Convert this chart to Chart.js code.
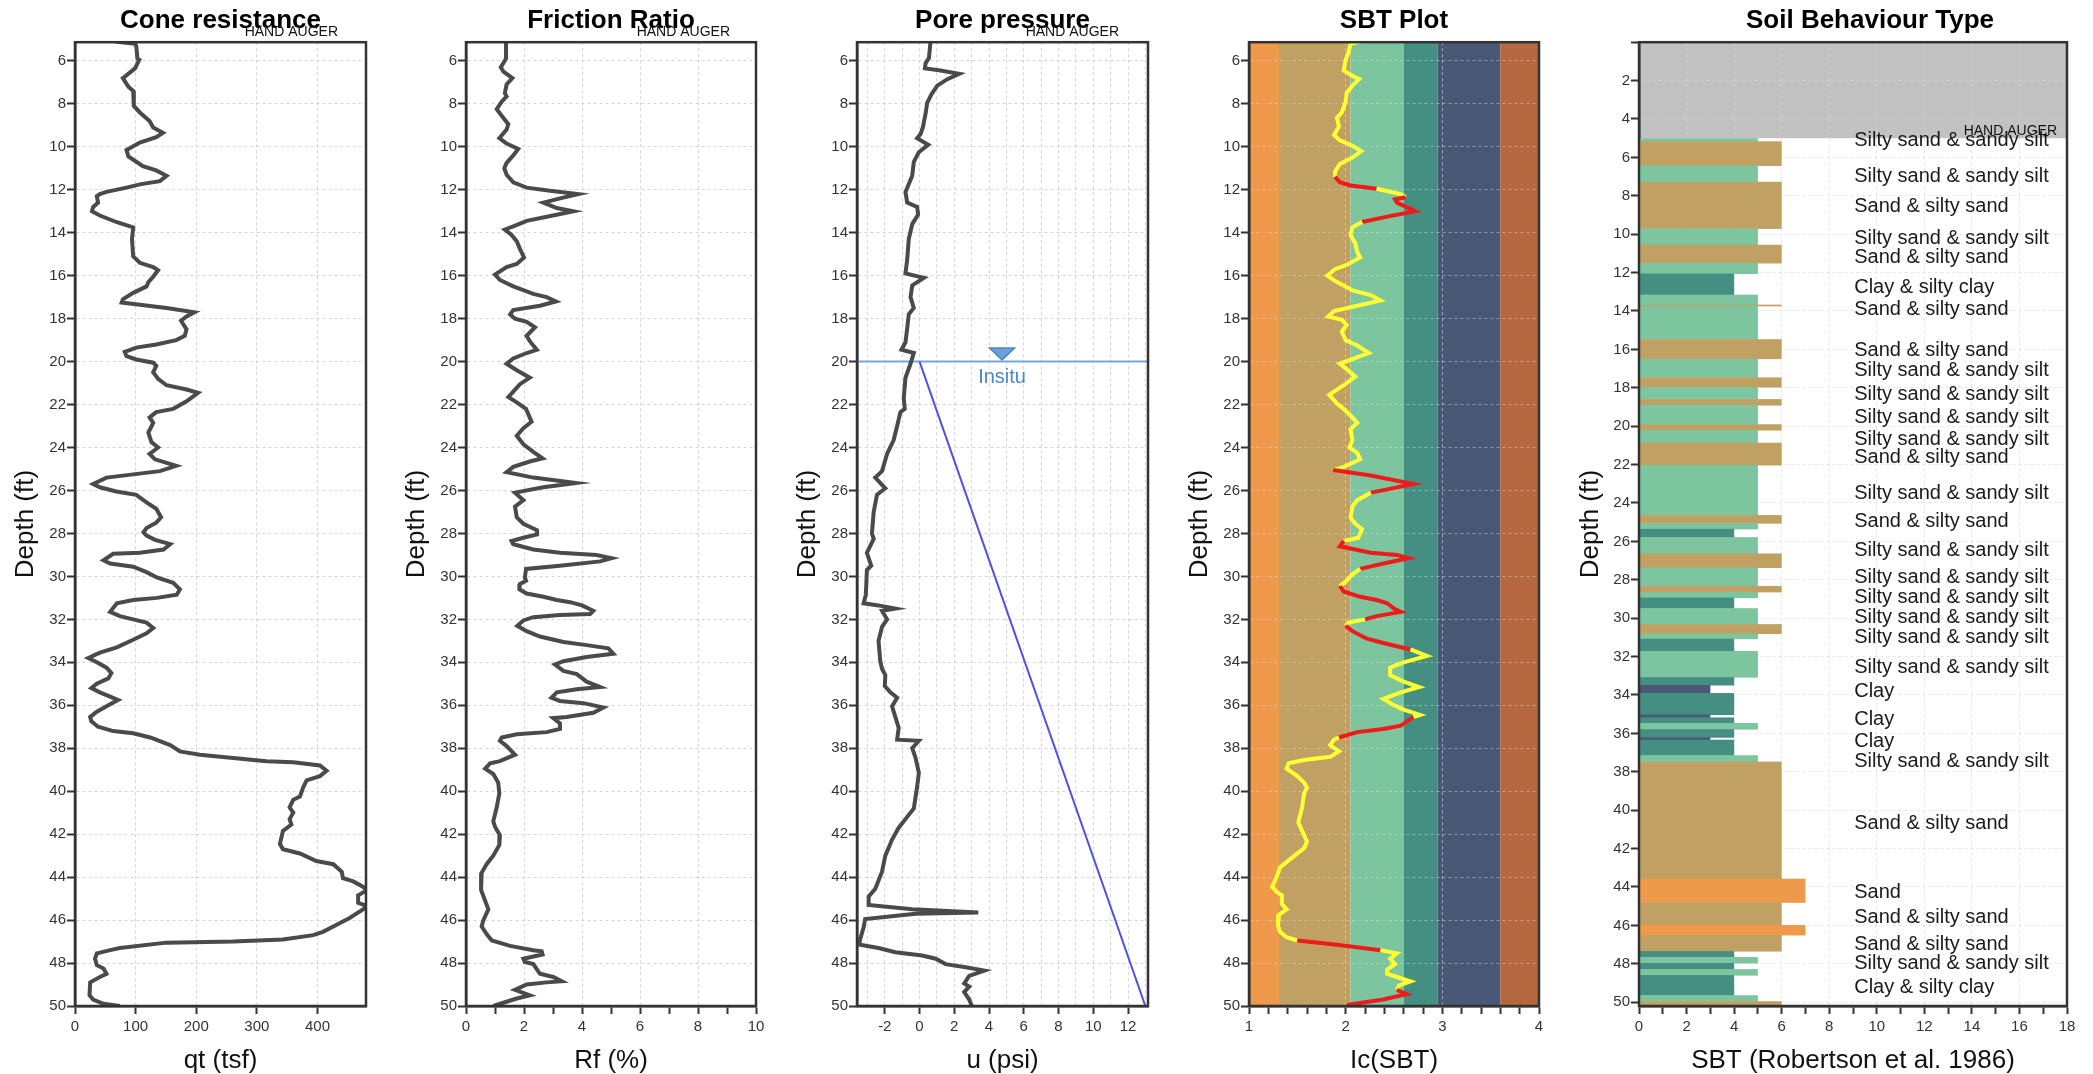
<!DOCTYPE html>
<html>
<head>
<meta charset="utf-8">
<script src="https://cdn.jsdelivr.net/npm/chart.js@4.4.1/dist/chart.umd.min.js"></script>
<style>
  html, body { margin: 0; padding: 0; background: #fff; overflow: hidden; width: 2093px; height: 1074px; }
  canvas { position: absolute; top: 0; }
</style>
</head>
<body>
<canvas id="cone" width="396" height="1074" style="left:0px"></canvas>
<canvas id="friction" width="390" height="1074" style="left:396px"></canvas>
<canvas id="pore" width="390" height="1074" style="left:786px"></canvas>
<canvas id="sbtplot" width="390" height="1074" style="left:1176px"></canvas>
<canvas id="sbt" width="527" height="1074" style="left:1566px"></canvas>
<script>
const qtDepth = [5.1, 5.2, 5.3, 5.9, 5.95, 6.35, 6.8, 7.2, 7.4, 8.1,
  8.4, 8.8, 9.1, 9.35, 9.55, 9.8, 10.15, 10.45, 10.9, 11.1,
  11.35, 11.6, 11.75, 11.9, 12.1, 12.2, 12.3, 12.6, 12.8, 13.0,
  13.2, 13.5, 13.75, 14.3, 15.1, 15.4, 15.6, 15.75, 16.05, 16.3,
  16.5, 16.8, 17.1, 17.25, 17.35, 17.5, 17.7, 17.9, 18.1, 18.5,
  18.8, 19.0, 19.2, 19.35, 19.55, 19.75, 19.9, 20.05, 20.2, 20.5,
  20.8, 21.1, 21.3, 21.45, 21.85, 22.2, 22.35, 22.6, 22.85, 23.3,
  23.75, 24.0, 24.3, 24.55, 24.85, 25.1, 25.25, 25.4, 25.7, 25.85,
  26.05, 26.2, 26.55, 26.85, 27.25, 27.5, 27.75, 27.95, 28.1, 28.3,
  28.5, 28.75, 28.9, 28.95, 29.25, 29.4, 29.55, 29.8, 30.05, 30.3,
  30.6, 30.85, 31.0, 31.1, 31.25, 31.65, 31.85, 32.0, 32.15, 32.4,
  32.65, 32.95, 33.3, 33.55, 33.8, 34.0, 34.25, 34.5, 34.75, 35.0,
  35.2, 35.4, 35.6, 35.75, 36.05, 36.3, 36.55, 36.75, 37.0, 37.2,
  37.3, 37.5, 37.85, 38.15, 38.3, 38.45, 38.6, 38.65, 38.8, 39.05,
  39.3, 39.5, 39.85, 40.25, 40.4, 40.75, 41.0, 41.3, 41.55, 41.85,
  42.45, 42.7, 42.9, 43.25, 43.4, 43.75, 44.05, 44.2, 44.45, 44.6,
  44.85, 45.2, 45.35, 45.5, 45.9, 46.3, 46.55, 46.7, 46.9, 47.0,
  47.05, 47.3, 47.4, 47.55, 47.8, 48.1, 48.25, 48.5, 48.65, 48.9,
  49.5, 49.7, 49.9, 50.0];
const qtValues = [66, 99, 101, 103, 106, 99, 79, 88, 96, 97,
  107, 123, 129, 145, 134, 107, 85, 88, 112, 134,
  151, 140, 107, 85, 52, 41, 36, 38, 30, 28,
  41, 68, 96, 94, 96, 107, 129, 137, 129, 121,
  118, 96, 79, 77, 107, 151, 197, 184, 175, 184,
  181, 167, 134, 101, 82, 85, 101, 129, 134, 129,
  137, 151, 184, 203, 184, 162, 134, 123, 129, 121,
  126, 137, 123, 132, 167, 140, 96, 52, 30, 41,
  68, 101, 118, 134, 142, 134, 118, 113, 118, 132,
  157, 146, 107, 63, 47, 58, 96, 118, 135, 162,
  173, 168, 135, 96, 69, 58, 74, 96, 118, 129,
  118, 96, 69, 41, 22, 36, 52, 60, 55, 36,
  27, 41, 58, 71, 52, 36, 25, 27, 38, 63,
  96, 124, 157, 173, 206, 261, 316, 360, 404, 415,
  404, 382, 376, 371, 360, 354, 360, 354, 357, 343,
  338, 343, 371, 398, 426, 440, 442, 459, 475, 482,
  467, 467, 482, 475, 453, 426, 409, 393, 343, 261,
  151, 74, 58, 36, 33, 36, 47, 52, 41, 25,
  24, 30, 47, 74];

const rfDepth = [5.1, 5.9, 6.1, 6.3, 6.5, 6.8, 7.1, 7.5, 7.65, 7.9,
  8.25, 8.55, 8.95, 9.2, 9.6, 9.85, 10.1, 10.4, 10.75, 11.0,
  11.3, 11.65, 11.9, 12.05, 12.2, 12.4, 12.6, 12.85, 13.0, 13.2,
  13.45, 13.7, 13.85, 14.1, 14.4, 14.75, 15.15, 15.45, 15.6, 15.95,
  16.2, 16.5, 16.85, 17.0, 17.2, 17.4, 17.6, 17.8, 18.0, 18.15,
  18.4, 18.8, 19.05, 19.45, 19.6, 19.85, 20.1, 20.4, 20.75, 21.05,
  21.4, 21.65, 21.9, 22.2, 22.8, 23.1, 23.45, 23.85, 24.2, 24.5,
  24.65, 24.9, 25.15, 25.4, 25.65, 25.85, 26.1, 26.45, 26.75, 27.25,
  27.55, 27.85, 28.05, 28.2, 28.35, 28.5, 28.75, 28.9, 29.0, 29.15,
  29.3, 29.5, 29.65, 30.05, 30.2, 30.35, 30.6, 30.8, 30.95, 31.1,
  31.2, 31.35, 31.6, 31.75, 31.8, 31.9, 32.05, 32.3, 32.55, 32.8,
  33.05, 33.2, 33.35, 33.6, 33.75, 33.95, 34.1, 34.4, 34.55, 34.9,
  35.15, 35.25, 35.4, 35.65, 35.8, 35.9, 36.1, 36.35, 36.55, 36.6,
  36.85, 37.1, 37.25, 37.35, 37.5, 37.65, 37.9, 38.3, 38.6, 38.7,
  38.95, 39.2, 39.6, 40.1, 40.75, 41.4, 41.65, 42.05, 42.5, 43.0,
  43.4, 43.8, 44.6, 45.1, 45.5, 46.0, 46.3, 46.65, 46.95, 47.2,
  47.4, 47.45, 47.6, 47.8, 47.95, 48.05, 48.5, 48.65, 48.85, 48.9,
  49.0, 49.25, 49.5, 49.65, 49.85, 50.0];
const rfValues = [1.38, 1.38, 1.29, 1.2, 1.29, 1.6, 1.4, 1.34, 1.4, 1.23,
  1.06, 1.23, 1.46, 1.4, 1.15, 1.4, 1.8, 1.63, 1.4, 1.32,
  1.4, 1.63, 2.09, 2.9, 3.87, 3.24, 2.67, 3.13, 3.7, 3.0,
  2.09, 1.63, 1.34, 1.57, 1.75, 1.86, 2.0, 1.75, 1.4, 1.0,
  1.17, 1.63, 2.32, 2.78, 3.1, 2.55, 1.63, 1.52, 1.69, 2.09,
  2.38, 2.09, 2.2, 2.44, 2.09, 1.63, 1.4, 1.75, 2.2, 1.86,
  1.63, 1.46, 1.75, 2.07, 2.26, 1.98, 1.75, 1.98, 2.32, 2.64,
  2.2, 1.63, 1.4, 2.32, 3.79, 2.67, 1.69, 1.98, 1.69, 1.75,
  1.98, 2.45, 2.45, 1.98, 1.57, 1.63, 2.32, 3.24, 4.5, 5.02,
  4.62, 3.24, 2.07, 2.03, 2.07, 1.86, 1.84, 2.09, 2.67, 3.13,
  3.59, 4.0, 4.39, 4.28, 3.24, 2.32, 1.98, 1.77, 2.09, 2.55,
  3.36, 4.16, 4.91, 5.08, 4.16, 3.36, 3.07, 3.36, 3.82, 4.16,
  4.62, 3.82, 3.13, 2.95, 3.24, 4.05, 4.74, 4.39, 3.47, 3.01,
  3.24, 3.24, 2.78, 1.75, 1.23, 1.17, 1.4, 1.69, 1.17, 0.83,
  0.66, 0.94, 1.11, 1.15, 1.06, 0.94, 1.0, 1.17, 1.15, 0.94,
  0.71, 0.54, 0.52, 0.66, 0.77, 0.6, 0.54, 0.71, 0.89, 1.52,
  2.32, 2.61, 2.64, 1.98, 2.03, 2.32, 2.55, 3.01, 3.3, 2.78,
  2.09, 1.69, 2.2, 1.75, 1.29, 0.94];

const uDepth = [5.03, 5.87, 6.1, 6.35, 6.44, 6.6, 6.85, 7.15, 7.55, 7.95,
  8.45, 9.1, 9.4, 9.6, 9.9, 10.25, 10.7, 11.35, 12.1, 12.6,
  12.8, 13.15, 13.6, 14.3, 15.25, 15.9, 16.1, 16.45, 17.0, 17.5,
  17.8, 18.45, 19.1, 19.45, 19.6, 20.1, 20.75, 21.7, 22.2, 22.35,
  23.0, 23.65, 24.3, 25.1, 25.4, 25.9, 26.2, 27.0, 28.0, 28.25,
  28.9, 29.5, 29.7, 30.85, 31.25, 31.35, 31.5, 31.6, 32.0, 32.35,
  33.0, 33.95, 34.3, 34.6, 35.1, 35.4, 35.65, 36.05, 36.55, 37.05,
  37.6, 37.65, 38.0, 38.45, 39.15, 39.8, 40.8, 41.3, 41.7, 42.25,
  43.0, 43.75, 44.55, 44.9, 45.3, 45.5, 45.65, 45.7, 45.95, 46.35,
  47.0, 47.15, 47.3, 47.5, 47.65, 47.8, 48.05, 48.2, 48.35, 48.6,
  48.95, 49.1, 49.35, 49.7, 50.0];
const uValues = [0.64, 0.54, 0.35, 0.31, 1.12, 2.28, 1.6, 1.02, 0.69, 0.44,
  0.35, 0.19, 0.06, -0.14, 0.5, -0.04, -0.33, -0.42, -0.81, -0.71,
  -0.14, -0.08, -0.42, -0.62, -0.71, -0.81, 0.25, -0.42, -0.52, -0.33,
  -0.62, -0.71, -0.81, -1.04, -0.33, -0.52, -0.81, -0.91, -0.85, -1.1,
  -1.29, -1.49, -1.87, -2.16, -2.55, -1.97, -2.45, -2.64, -2.74, -2.64,
  -3.03, -2.78, -3.03, -3.09, -3.22, -2.36, -1.39, -2.16, -1.87, -2.16,
  -2.36, -2.26, -2.16, -1.97, -2.0, -1.68, -1.29, -1.58, -1.39, -1.2,
  -1.29, -0.04, -0.42, -0.23, -0.04, -0.14, -0.33, -0.81, -1.2, -1.58,
  -1.97, -2.16, -2.55, -2.93, -2.93, -0.42, 3.38, -0.23, -3.13, -3.22,
  -3.46, -3.42, -2.36, -1.39, 0.15, 0.93, 1.5, 2.66, 3.73, 2.86,
  2.57, 2.86, 2.57, 2.86, 3.01];

// hydrostatic line below the water table
const waterDepth = 20;
const hydroDepth = [20, 50];
const hydroU = [0, 13.0];

const icDepth = [5.1, 5.2, 5.6, 5.95, 6.45, 6.7, 6.85, 7.15, 7.5, 7.9,
  8.4, 8.65, 9.05, 9.45, 9.7, 9.95, 10.2, 10.5, 10.8, 11.15,
  11.4, 11.65, 11.8, 11.95, 12.2, 12.35, 12.45, 12.6, 13.0, 13.25,
  13.5, 13.75, 14.1, 14.5, 14.9, 15.15, 15.5, 15.7, 16.0, 16.3,
  16.7, 16.9, 17.15, 17.4, 17.65, 17.9, 18.05, 18.3, 18.6, 19.0,
  19.25, 19.6, 19.75, 20.1, 20.35, 20.7, 21.1, 21.55, 21.95, 22.2,
  22.6, 22.85, 23.15, 23.65, 24.0, 24.25, 24.55, 24.9, 25.05, 25.3,
  25.7, 25.95, 26.1, 26.45, 26.75, 27.25, 27.55, 27.8, 28.2, 28.35,
  28.6, 28.9, 29.0, 29.15, 29.4, 29.65, 29.9, 30.2, 30.45, 30.7,
  30.95, 31.1, 31.25, 31.5, 31.65, 31.85, 32.0, 32.15, 32.3, 32.55,
  32.9, 33.1, 33.4, 33.7, 34.0, 34.25, 34.6, 34.9, 35.15, 35.4,
  35.7, 35.95, 36.2, 36.45, 36.55, 36.95, 37.1, 37.25, 37.5, 37.6,
  37.85, 38.15, 38.4, 38.55, 38.7, 38.95, 39.3, 39.6, 39.85, 40.1,
  40.75, 41.45, 41.85, 42.35, 42.65, 43.15, 43.55, 43.95, 44.45, 44.7,
  44.85, 45.25, 45.5, 45.75, 46.25, 46.55, 46.8, 46.95, 47.15, 47.4,
  47.55, 47.8, 48.05, 48.3, 48.5, 48.65, 48.85, 49.05, 49.25, 49.45,
  49.7, 49.95];
const icValues = [2.15, 2.05, 2.03, 2.0, 1.98, 2.07, 2.14, 2.07, 2.01, 2.0,
  1.96, 1.91, 1.93, 1.88, 1.94, 2.07, 2.16, 2.07, 1.94, 1.89,
  1.89, 1.94, 2.05, 2.32, 2.57, 2.62, 2.51, 2.53, 2.72, 2.43,
  2.17, 2.07, 2.05, 2.1, 2.12, 2.15, 2.01, 1.89, 1.81, 1.91,
  2.08, 2.26, 2.36, 2.12, 1.88, 1.82, 1.96, 2.01, 1.96, 2.0,
  2.12, 2.24, 2.15, 1.94, 2.01, 2.1, 1.98, 1.83, 1.91, 1.98,
  2.07, 2.12, 2.05, 2.07, 2.04, 2.12, 2.15, 1.98, 1.87, 2.26,
  2.7, 2.43, 2.26, 2.12, 2.07, 2.05, 2.1, 2.17, 2.13, 1.98,
  1.94, 2.26, 2.53, 2.65, 2.39, 2.15, 2.07, 2.01, 1.94, 1.98,
  2.15, 2.32, 2.43, 2.5, 2.57, 2.32, 2.2, 2.03, 2.0, 2.07,
  2.22, 2.39, 2.67, 2.84, 2.6, 2.46, 2.46, 2.6, 2.76, 2.57,
  2.39, 2.48, 2.6, 2.77, 2.7, 2.57, 2.39, 2.12, 1.93, 1.88,
  1.84, 1.93, 1.84, 1.57, 1.41, 1.39, 1.5, 1.57, 1.6, 1.57,
  1.55, 1.51, 1.55, 1.6, 1.57, 1.43, 1.32, 1.29, 1.24, 1.29,
  1.34, 1.34, 1.39, 1.31, 1.3, 1.32, 1.39, 1.5, 1.91, 2.36,
  2.53, 2.46, 2.51, 2.43, 2.43, 2.53, 2.67, 2.55, 2.53, 2.63,
  2.39, 2.01];
// 1 = the stretch starting at this point is drawn red (transition zone)
const icRed = [0, 0, 0, 0, 0, 0, 0, 0, 0, 0,
  0, 0, 0, 0, 0, 0, 0, 0, 0, 0,
  1, 1, 1, 0, 0, 1, 1, 1, 1, 1,
  0, 0, 0, 0, 0, 0, 0, 0, 0, 0,
  0, 0, 0, 0, 0, 0, 0, 0, 0, 0,
  0, 0, 0, 0, 0, 0, 0, 0, 0, 0,
  0, 0, 0, 0, 0, 0, 0, 0, 1, 1,
  1, 1, 0, 0, 0, 0, 0, 0, 0, 1,
  1, 1, 1, 1, 1, 0, 0, 0, 1, 1,
  1, 1, 1, 1, 1, 1, 0, 0, 1, 1,
  1, 1, 0, 0, 0, 0, 0, 0, 0, 0,
  0, 0, 0, 0, 1, 1, 1, 1, 0, 0,
  0, 0, 0, 0, 0, 0, 0, 0, 0, 0,
  0, 0, 0, 0, 0, 0, 0, 0, 0, 0,
  0, 0, 0, 0, 0, 0, 0, 1, 1, 0,
  0, 0, 0, 0, 0, 0, 0, 0, 1, 1,
  1, 0];

// Ic zone boundaries and their colours
const icBounds = [1, 1.31, 2.05, 2.6, 2.95, 3.6, 4];
const icBandColors = ['#ef9a4b', '#c0a063', '#7cc59f', '#448f81', '#4a5878', '#b5673f'];

// soil behaviour type layers (top depth + zone), base of last layer
const layerTop = [5.0, 5.16, 6.42, 7.27, 9.7, 10.55, 11.5, 12.05, 13.15, 13.67,
  13.73, 15.47, 16.48, 17.46, 17.96, 18.59, 18.9, 19.9, 20.2, 20.86,
  22.02, 24.63, 25.05, 25.35, 25.78, 26.63, 27.36, 28.32, 28.63, 28.93,
  29.48, 30.31, 30.8, 31.07, 31.71, 33.07, 33.48, 33.9, 35.02, 35.17,
  35.46, 35.78, 36.2, 36.33, 37.14, 37.47, 43.57, 44.8, 45.98, 46.5,
  47.34, 47.65, 47.96, 48.28, 48.59, 49.64, 49.95];
const layerZone = [5, 6, 5, 6, 5, 6, 5, 4, 5, 6,
  5, 6, 5, 6, 5, 6, 5, 6, 5, 6,
  5, 6, 5, 4, 5, 6, 5, 6, 5, 4,
  5, 6, 5, 4, 5, 4, 3, 4, 3, 4,
  5, 4, 3, 4, 5, 6, 7, 6, 7, 6,
  4, 5, 4, 5, 4, 5, 6];
const layerBase = 50.2;
const zoneColors = {3: '#4a5878', 4: '#448f81', 5: '#7cc59f', 6: '#c0a063', 7: '#ef9a4b'};

const SS = 'Silty sand & sandy silt', SD = 'Sand & silty sand', CL = 'Clay & silty clay';
const labelDepth = [5.1, 7.0, 8.58, 10.24, 11.2, 12.78, 13.9, 16.07, 17.11, 18.37,
  19.53, 20.68, 21.62, 23.5, 24.96, 26.45, 27.9, 28.9, 29.95, 30.98,
  32.56, 33.83, 35.3, 36.42, 37.47, 40.67, 44.3, 45.57, 47.0, 47.96, 49.22];
const labelText = [SS, SS, SD, SS, SD, CL, SD, SD, SS, SS,
  SS, SS, SD, SS, SD, SS, SS, SS, SS, SS,
  SS, 'Clay', 'Clay', 'Clay', SS, SD, 'Sand', SD, SD, SS, CL];

const handAugerDepth = 5;

// ---- tick values ----
const depthTicks = [6, 8, 10, 12, 14, 16, 18, 20, 22, 24, 26, 28, 30, 32, 34, 36, 38, 40, 42, 44, 46, 48, 50];
const sbtDepthTicks = [0, 2, 4, 6, 8, 10, 12, 14, 16, 18, 20, 22, 24, 26, 28, 30, 32, 34, 36, 38, 40, 42, 44, 46, 48, 50];
const qtTicks = [0, 100, 200, 300, 400];
const rfTicks = [0, 1, 2, 3, 4, 5, 6, 7, 8, 9, 10];
const uTicks = [-3, -2, -1, 0, 1, 2, 3, 4, 5, 6, 7, 8, 9, 10, 11, 12, 13];
const icTicks = [1, 1.2, 1.4, 1.6, 1.8, 2, 2.2, 2.4, 2.6, 2.8, 3, 3.2, 3.4, 3.6, 3.8, 4];
const sbtTicks = [0, 1, 2, 3, 4, 5, 6, 7, 8, 9, 10, 11, 12, 13, 14, 15, 16, 17, 18];

// ---- drawing ----
Chart.defaults.font.family = "'Liberation Sans', Arial, sans-serif";
Chart.defaults.color = '#222';

const pts = (xs, ys) => xs.map((x, i) => ({x: x, y: ys[i]}));
const GRID = 'rgba(200,200,200,0.75)';
const INK = '#333';

const framePlugin = {
  id: 'frame',
  afterDatasetsDraw(c) {
    const a = c.chartArea, ctx = c.ctx;
    ctx.save();
    ctx.strokeStyle = INK;
    ctx.lineWidth = 2.5;
    ctx.strokeRect(a.left, a.top, a.right - a.left, a.bottom - a.top);
    ctx.restore();
  }
};

function handAuger(inset) {
  return {
    id: 'handAuger',
    afterDraw(c) {
      const ctx = c.ctx;
      ctx.save();
      ctx.font = "14px 'Liberation Sans', Arial, sans-serif";
      ctx.fillStyle = '#111';
      ctx.textAlign = 'right';
      ctx.textBaseline = 'alphabetic';
      ctx.fillText('HAND AUGER', c.chartArea.right - inset, c.scales.y.getPixelForValue(handAugerDepth) - 3);
      ctx.restore();
    }
  };
}

// title drawn by hand when it sits off the plot centre
function shiftedTitle(text, shift) {
  return {
    id: 'shiftedTitle',
    afterDraw(c) {
      const ctx = c.ctx, a = c.chartArea, t = c.titleBlock;
      ctx.save();
      ctx.font = "bold 26px 'Liberation Sans', Arial, sans-serif";
      ctx.fillStyle = '#000';
      ctx.textAlign = 'center';
      ctx.textBaseline = 'middle';
      ctx.fillText(text, (a.left + a.right) / 2 + shift, (t.top + t.bottom) / 2);
      ctx.restore();
    }
  };
}

function lineSet(xs, ys, color, width) {
  return {data: pts(xs, ys), showLine: true, pointRadius: 0, borderColor: color, borderWidth: width, tension: 0};
}

function panel(id, o) {
  const setTicks = arr => s => { s.ticks = arr.map(v => ({value: v})); };
  return new Chart(document.getElementById(id), {
    type: 'scatter',
    data: {datasets: o.datasets},
    options: {
      responsive: false,
      animation: false,
      events: [],
      layout: {padding: {left: 0, right: o.padRight, top: 0, bottom: 0}, autoPadding: false},
      plugins: {
        legend: {display: false},
        tooltip: {enabled: false},
        title: {
          display: true, text: o.title, fullSize: false,
          color: o.titleShift ? 'rgba(0,0,0,0)' : '#000',
          font: {size: 26, weight: 'bold', lineHeight: 1.2},
          padding: {top: 5, bottom: 6}
        }
      },
      scales: {
        x: {
          type: 'linear', position: 'bottom', min: o.xMin, max: o.xMax,
          afterBuildTicks: setTicks(o.xTicks),
          afterFit: s => { s.height = 68; },
          ticks: {autoSkip: false, maxRotation: 0, padding: 4, color: INK, font: {size: 15}, callback: o.xLabel || (v => v)},
          grid: {color: o.xGrid || GRID, tickColor: o.xTickColor || INK, tickLength: 8, tickWidth: 2, lineWidth: 1},
          border: {color: INK, width: 2.5, dash: [3, 3]},
          title: {display: true, text: o.xTitle, color: '#111', font: {size: 26, lineHeight: 1}, padding: {top: 0, bottom: 0}}
        },
        y: {
          type: 'linear', position: 'left', reverse: true, min: o.yMin, max: o.yMax || 50,
          afterBuildTicks: setTicks(o.yTicks),
          afterFit: s => { s.width = o.yWidth; },
          ticks: {autoSkip: false, padding: 1, color: INK, font: {size: 15}, callback: v => (v === 0 ? '' : v)},
          grid: {color: o.yGrid || GRID, tickColor: INK, tickLength: 8, tickWidth: 2, lineWidth: 1},
          border: {color: INK, width: 2.5, dash: [3, 3]},
          title: {display: true, text: 'Depth (ft)', color: '#111', font: {size: 26, lineHeight: 1}, padding: {top: o.yTitlePad, bottom: 0}}
        }
      }
    },
    plugins: [framePlugin].concat(o.plugins || [])
  });
}

// Cone resistance
panel('cone', {
  title: 'Cone resistance', xTitle: 'qt (tsf)',
  xMin: 0, xMax: 480, xTicks: qtTicks,
  yMin: 5.13, yTicks: depthTicks, yWidth: 75, yTitlePad: 13, padRight: 30,
  datasets: [lineSet(qtValues, qtDepth, '#4a4a4a', 4)],
  plugins: [handAuger(28)]
});

// Friction ratio
panel('friction', {
  title: 'Friction Ratio', xTitle: 'Rf (%)',
  xMin: 0, xMax: 10, xTicks: rfTicks,
  xLabel: v => (v % 2 === 0 ? v : ''),
  xGrid: ctx => (ctx.tick && ctx.tick.value % 2 === 0 ? GRID : 'rgba(0,0,0,0)'),
  yMin: 5.13, yTicks: depthTicks, yWidth: 70, yTitlePad: 8, padRight: 30,
  datasets: [lineSet(rfValues, rfDepth, '#4a4a4a', 4)],
  plugins: [handAuger(26)]
});

// Pore pressure
const insitu = {
  id: 'insitu',
  beforeDatasetsDraw(c) {
    const {ctx, chartArea: a, scales: {x, y}} = c;
    const wy = y.getPixelForValue(waterDepth);
    ctx.save();
    ctx.strokeStyle = '#76a6dd';
    ctx.lineWidth = 2;
    ctx.beginPath();
    ctx.moveTo(a.left, wy);
    ctx.lineTo(a.right, wy);
    ctx.stroke();
    // water table marker
    const cx = x.getPixelForValue(4.75), tip = y.getPixelForValue(19.92);
    ctx.fillStyle = '#6d9fdb';
    ctx.strokeStyle = '#4f86c6';
    ctx.lineWidth = 1.5;
    ctx.beginPath();
    ctx.moveTo(cx - 12.5, tip - 12);
    ctx.lineTo(cx + 12.5, tip - 12);
    ctx.lineTo(cx, tip);
    ctx.closePath();
    ctx.fill();
    ctx.stroke();
    ctx.fillStyle = '#4a86c8';
    ctx.font = "20px 'Liberation Sans', Arial, sans-serif";
    ctx.textAlign = 'center';
    ctx.textBaseline = 'middle';
    ctx.fillText('Insitu', cx, y.getPixelForValue(20.72));
    ctx.restore();
  }
};
panel('pore', {
  title: 'Pore pressure', xTitle: 'u (psi)',
  xMin: -3.6, xMax: 13.15, xTicks: uTicks,
  xLabel: v => (v % 2 === 0 ? v : ''),
  xTickColor: ctx => (ctx.tick && ctx.tick.value % 2 === 0 ? INK : 'rgba(0,0,0,0)'),
  yMin: 5.13, yTicks: depthTicks, yWidth: 71, yTitlePad: 9, padRight: 28,
  datasets: [
    lineSet(hydroU, hydroDepth, '#5050e6', 2),
    lineSet(uValues, uDepth, '#4a4a4a', 4)
  ],
  plugins: [insitu, handAuger(29)]
});

// SBT plot (Ic)
const icBands = {
  id: 'icBands',
  beforeDraw(c) {
    const {ctx, chartArea: a, scales: {x}} = c;
    ctx.save();
    for (let i = 0; i < icBandColors.length; i++) {
      const x0 = x.getPixelForValue(icBounds[i]), x1 = x.getPixelForValue(icBounds[i + 1]);
      ctx.fillStyle = icBandColors[i];
      ctx.fillRect(x0, a.top, x1 - x0, a.bottom - a.top);
    }
    ctx.restore();
  }
};
const icSet = lineSet(icValues, icDepth, '#ffff33', 4);
icSet.segment = {borderColor: ctx => (icRed[ctx.p0DataIndex] ? '#ee1b1b' : '#ffff33')};
panel('sbtplot', {
  title: 'SBT Plot', xTitle: 'Ic(SBT)',
  xMin: 1, xMax: 4, xTicks: icTicks,
  xLabel: v => (Number.isInteger(v) ? v : ''),
  xGrid: ctx => (ctx.tick && Number.isInteger(ctx.tick.value) ? 'rgba(225,225,225,0.55)' : 'rgba(0,0,0,0)'),
  yGrid: 'rgba(225,225,225,0.45)',
  yMin: 5.13, yTicks: depthTicks, yWidth: 73, yTitlePad: 11, padRight: 27,
  datasets: [icSet],
  plugins: [icBands]
});

// Soil behaviour type
const sbtLayers = {
  id: 'sbtLayers',
  beforeDraw(c) {
    const {ctx, chartArea: a, scales: {y}} = c;
    const y0 = y.getPixelForValue(0), y1 = y.getPixelForValue(handAugerDepth);
    ctx.save();
    ctx.fillStyle = '#c2c2c2';
    ctx.fillRect(a.left, y0, a.right - a.left, y1 - y0);
    ctx.restore();
  },
  beforeDatasetsDraw(c) {
    const {ctx, chartArea: a, scales: {x, y}} = c;
    ctx.save();
    ctx.beginPath();
    ctx.rect(a.left, a.top, a.right - a.left, a.bottom - a.top);
    ctx.clip();
    layerTop.forEach((top, i) => {
      const base = i + 1 < layerTop.length ? layerTop[i + 1] : layerBase;
      const x0 = x.getPixelForValue(0), x1 = x.getPixelForValue(layerZone[i]);
      const y0 = y.getPixelForValue(top), y1 = y.getPixelForValue(base);
      ctx.fillStyle = zoneColors[layerZone[i]];
      ctx.fillRect(x0, y0, x1 - x0, y1 - y0 + 0.5);
    });
    ctx.restore();
  },
  afterDatasetsDraw(c) {
    const {ctx, scales: {x, y}} = c;
    ctx.save();
    ctx.font = "20px 'Liberation Sans', Arial, sans-serif";
    ctx.fillStyle = '#1a1a1a';
    ctx.textAlign = 'left';
    ctx.textBaseline = 'middle';
    labelText.forEach((t, i) => ctx.fillText(t, x.getPixelForValue(9.05), y.getPixelForValue(labelDepth[i])));
    ctx.restore();
  }
};
panel('sbt', {
  title: 'Soil Behaviour Type', titleShift: 17, xTitle: 'SBT (Robertson et al. 1986)',
  xMin: 0, xMax: 18, xTicks: sbtTicks,
  xLabel: v => (v % 2 === 0 ? v : ''),
  xGrid: ctx => (ctx.tick && ctx.tick.value % 2 === 0 ? 'rgba(215,215,215,0.6)' : 'rgba(0,0,0,0)'),
  yGrid: 'rgba(215,215,215,0.6)',
  yMin: 0, yMax: 50.2, yTicks: sbtDepthTicks, yWidth: 73, yTitlePad: 12, padRight: 26,
  datasets: [],
  plugins: [sbtLayers, handAuger(10), shiftedTitle('Soil Behaviour Type', 17)]
});
</script>
</body>
</html>
